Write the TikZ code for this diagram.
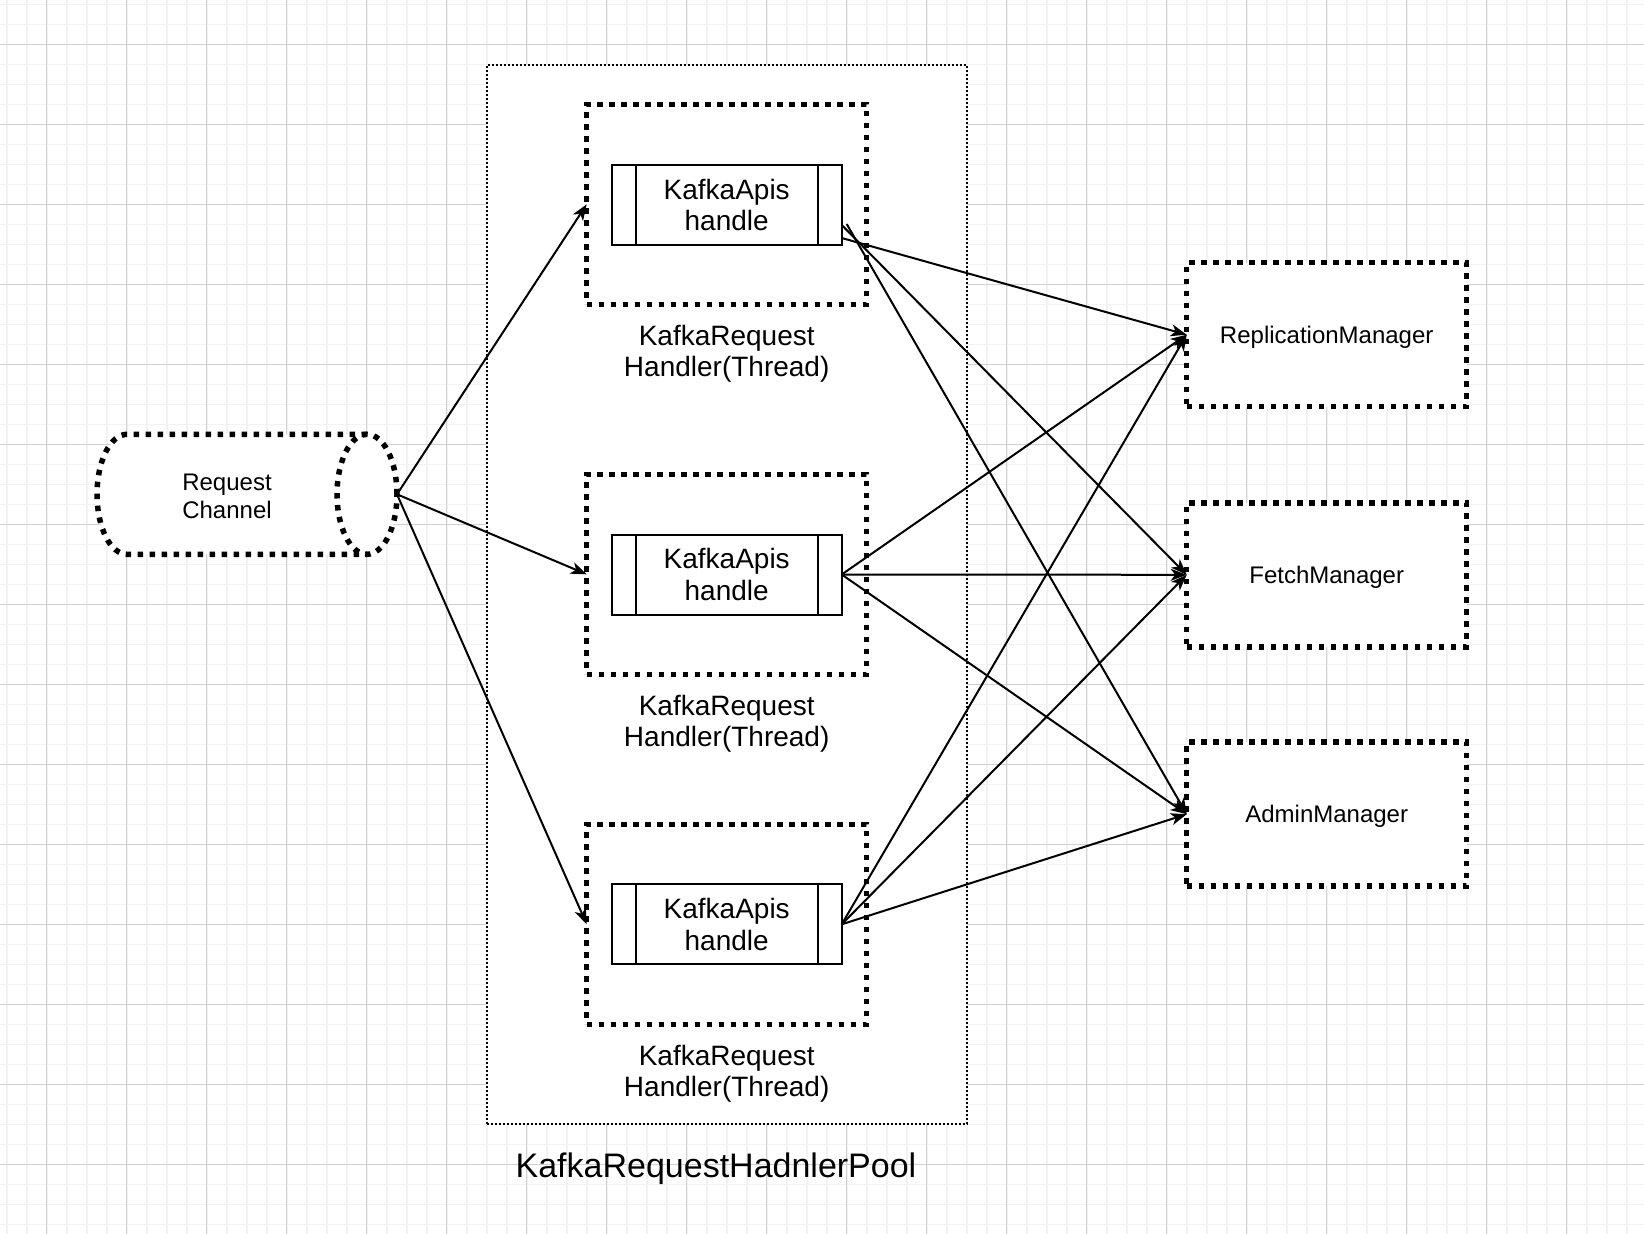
\documentclass[tikz,border=0pt]{standalone}
\usepackage{fontspec}
\setmainfont{Liberation Sans}
\usetikzlibrary{arrows.meta,calc}
\begin{document}
\begin{tikzpicture}[x=1pt,y=-1pt,
  gminor/.style={line width=1.6pt,color=black!5},
  gmajor/.style={line width=1pt,color=black!18},
  heavydot/.style={line width=5.5pt,dash pattern=on 5.5pt off 6.5pt},
  pooldot/.style={draw,fill=white,line width=1.8pt,dash pattern=on 2pt off 2pt,inner sep=0pt,outer sep=0pt},
  hbox/.style={draw,fill=white,heavydot,minimum width=280pt,minimum height=200pt,inner sep=0pt,outer sep=0pt},
  mbox/.style={draw,fill=white,heavydot,minimum width=280pt,minimum height=144pt,inner sep=0pt,outer sep=0pt,
               text depth=0pt,font=\fontsize{24pt}{28pt}\selectfont},
  proc/.style={draw,fill=white,line width=2pt,minimum width=230pt,minimum height=80pt,inner sep=0pt,outer sep=0pt,
               align=center,font=\fontsize{28pt}{31.7pt}\selectfont},
  hlabel/.style={align=center,inner sep=0pt,font=\fontsize{28pt}{31.5pt}\selectfont},
  clabel/.style={align=center,inner sep=0pt,font=\fontsize{24pt}{27.7pt}\selectfont},
  arr/.style={line width=2pt,-{Stealth[length=16pt,width=12pt,inset=4.5pt]}}
]
\useasboundingbox (0,0) rectangle (1644,1234);
\fill[white] (0,0) rectangle (1644,1234);
% grid
\foreach \x in {6.7,26.7,...,1644} \draw[gminor] (\x,0) -- (\x,1234);
\foreach \y in {4.3,24.3,...,1234} \draw[gminor] (0,\y) -- (1644,\y);
\foreach \x in {46.7,126.7,...,1644} \draw[gmajor] (\x,0) -- (\x,1234);
\foreach \y in {44.3,124.3,...,1234} \draw[gmajor] (0,\y) -- (1644,\y);

% pool container
\node[pooldot,minimum width=480pt,minimum height=1059.3pt] (pool) at (726.7,594.65) {};
\node[inner sep=0pt,font=\fontsize{34pt}{40pt}\selectfont] (title) at (716,1169) {KafkaRequestHadnlerPool};

% request channel (horizontal cylinder)
\fill[white] (127,434.3) -- (367,434.3) -- (367,554.3) -- (127,554.3) arc[start angle=270,end angle=90,x radius=30pt,y radius=60pt] -- cycle;
\fill[white] (367,494.3) ellipse[x radius=30pt,y radius=60pt];
\draw[heavydot] (367,434.3) -- (127,434.3) arc[start angle=90,end angle=270,x radius=30pt,y radius=60pt] -- (367,554.3);
\draw[heavydot] (367,494.3) ellipse[x radius=30pt,y radius=60pt];
\node[clabel] (rc) at (227,496.5) {Request\\Channel};
\coordinate (rcout) at (397,494.3);

% handlers
\node[hbox] (h1) at (726.7,204.3) {};
\node[hbox] (h2) at (726.7,574.3) {};
\node[hbox] (h3) at (726.7,924.3) {};
\node[proc] (p1) at (726.7,205) {KafkaApis\\handle};
\node[proc] (p2) at (726.7,574.5) {KafkaApis\\handle};
\node[proc] (p3) at (726.7,924.3) {KafkaApis\\handle};
\foreach \p in {p1,p2,p3}{
  \draw[line width=2pt] ([xshift=24pt]\p.north west) -- ([xshift=24pt]\p.south west);
  \draw[line width=2pt] ([xshift=-24pt]\p.north east) -- ([xshift=-24pt]\p.south east);
}
\node[hlabel] (l1) at (726.7,353.5) {KafkaRequest\\Handler(Thread)};
\node[hlabel] (l2) at (726.7,723.5) {KafkaRequest\\Handler(Thread)};
\node[hlabel] (l3) at (726.7,1073.5) {KafkaRequest\\Handler(Thread)};

% managers
\node[mbox] (rm) at (1326.7,334.7) {ReplicationManager};
\node[mbox] (fm) at (1326.7,574.8) {FetchManager};
\node[mbox] (am) at (1326.7,814.2) {AdminManager};

% connectors
\draw[arr] (rcout) -- (h1.west);
\draw[arr] (rcout) -- (h2.west);
\draw[arr] (rcout) -- (h3.west);

\draw[arr] ([yshift=-33pt]p1.east) -- (rm.west);
\draw[arr] ([yshift=-20pt]p1.east) -- (fm.west);
\draw[arr] ([xshift=5pt,yshift=-19pt]p1.east) -- (am.west);

\draw[arr] (p2.east) -- (rm.west);
\draw[arr] (p2.east) -- (fm.west);
\draw[arr] (p2.east) -- (am.west);

\draw[arr] (p3.east) -- (rm.west);
\draw[arr] (p3.east) -- (fm.west);
\draw[arr] (p3.east) -- (am.west);
\end{tikzpicture}
\end{document}
